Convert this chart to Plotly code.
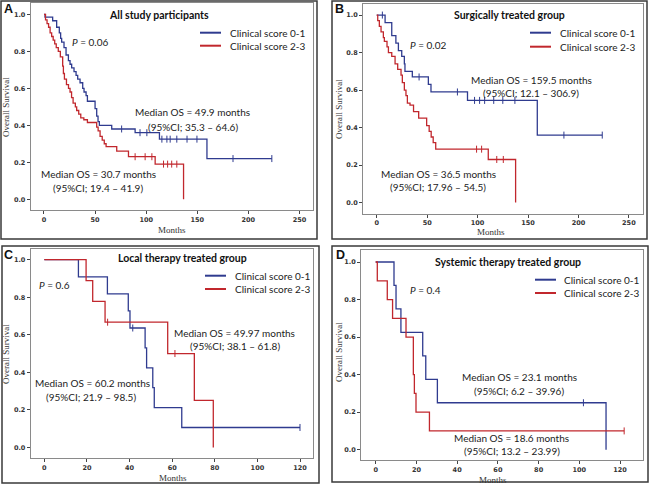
import plotly.graph_objects as go

# ---------------- data ----------------
# Panel A: all study participants
A_blue_t = [0, 1, 8.5, 12.4, 15, 16.3, 17.3, 19.6, 21.6, 23.9, 25.5, 27.1, 29.4, 31.4, 33, 35.3,
            37.9, 39.2, 41.2, 42.5, 50, 51.6, 52.9, 54.2, 66.3, 89.2, 113, 159.5, 223]
A_blue_s = [1.0, 0.985, 0.965, 0.93, 0.90, 0.87, 0.85, 0.82, 0.78, 0.75, 0.73, 0.71, 0.69, 0.67, 0.65, 0.63,
            0.60, 0.58, 0.56, 0.53, 0.49, 0.45, 0.42, 0.40, 0.38, 0.36, 0.325, 0.22, 0.22]
A_blue_cens = [76, 94, 100.7, 115.4, 120.3, 123.5, 130, 140, 149.7, 185, 223]
A_red_t = [0, 1.5, 3, 4.5, 6, 7.5, 9, 10.5, 12, 14, 16, 18.3, 19, 20, 22, 24, 25.5, 27, 28.5, 30.7,
           32, 34, 36, 39, 42.5, 51.6, 53, 54.9, 57, 59, 60.8, 71.2, 82.7, 108.8, 136.6]
A_red_s = [1.0, 0.97, 0.95, 0.93, 0.90, 0.88, 0.86, 0.84, 0.82, 0.80, 0.77, 0.72, 0.68, 0.65, 0.62, 0.60,
           0.58, 0.55, 0.52, 0.50, 0.48, 0.46, 0.44, 0.43, 0.415, 0.39, 0.37, 0.34, 0.32, 0.30, 0.285,
           0.26, 0.23, 0.19, 0.0]
A_red_cens = [89.2, 99, 105.6, 117, 121, 125, 130]

# Panel B: surgically treated group
B_blue_t = [0, 8.3, 14.9, 19, 21.5, 24.8, 27.4, 28, 35.3, 51.2, 53.8, 90, 159.2, 223.6]
B_blue_s = [1.0, 0.96, 0.89, 0.85, 0.81, 0.78, 0.74, 0.70, 0.67, 0.63, 0.59, 0.545, 0.36, 0.36]
B_blue_cens = [5.6, 42, 80, 97, 102, 107, 116, 125, 137, 185.6, 223.6]
B_red_t = [0, 1, 2.6, 4.3, 6.6, 7.6, 10.2, 11.6, 14.9, 18.2, 20.8, 24.1, 25.4, 27.4, 29, 30.4, 33,
           36.5, 41.6, 49.5, 52, 54, 56, 58.5, 110.6, 137.7]
B_red_s = [1.0, 0.97, 0.94, 0.91, 0.88, 0.86, 0.83, 0.80, 0.78, 0.74, 0.71, 0.68, 0.64, 0.60, 0.57,
           0.53, 0.52, 0.485, 0.45, 0.41, 0.38, 0.35, 0.32, 0.285, 0.23, 0.0]
B_red_cens = [99, 104, 119, 125.5]

# Panel C: local therapy treated group
C_blue_t = [0, 16, 29.6, 39.4, 40.2, 47.3, 48, 50.9, 51.6, 64.5, 120]
C_blue_s = [1.0, 0.909, 0.818, 0.727, 0.636, 0.530, 0.424, 0.318, 0.212, 0.106, 0.106]
C_blue_cens = [41.5, 120]
C_red_t = [0, 19.6, 22.7, 28.5, 57.9, 70.4, 79.3]
C_red_s = [1.0, 0.889, 0.778, 0.667, 0.5, 0.25, 0.0]
C_red_cens = [29.7, 61.3]

# Panel D: systemic therapy treated group
D_blue_t = [0, 9, 10, 12.4, 23.1, 24.6, 30.3, 113.1]
D_blue_s = [1.0, 0.875, 0.75, 0.625, 0.5, 0.375, 0.25, 0.0]
D_blue_cens = [102]
D_red_t = [0, 0.8, 5.7, 8.3, 14.9, 18.5, 19.0, 19.8, 26.4, 122]
D_red_s = [1.0, 0.9, 0.8, 0.7, 0.6, 0.4, 0.3, 0.2, 0.1, 0.1]
D_red_cens = [122]

series_names = ["Clinical score 0-1", "Clinical score 2-3"]
panel_letters = ["A", "B", "C", "D"]
panel_titles = ["All study participants", "Surgically treated group",
                "Local therapy treated group", "Systemic therapy treated group"]
p_values = ["0.06", "0.02", "0.6", "0.4"]
median_texts = [
    ["Median OS = 49.9 months", "(95%CI; 35.3 \u2013 64.6)",
     "Median OS = 30.7 months", "(95%CI; 19.4 \u2013 41.9)"],
    ["Median OS = 159.5 months", "(95%CI; 12.1 \u2013 306.9)",
     "Median OS = 36.5 months", "(95%CI; 17.96 \u2013 54.5)"],
    ["Median OS = 49.97 months", "(95%CI; 38.1 \u2013 61.8)",
     "Median OS = 60.2 months", "(95%CI; 21.9 \u2013 98.5)"],
    ["Median OS = 23.1 months", "(95%CI; 6.2 \u2013 39.96)",
     "Median OS = 18.6 months", "(95%CI; 13.2 \u2013 23.99)"],
]
x_axis_title = "Months"
y_axis_title = "Overall Survival"

# ---------------- styling / layout ----------------
W, H = 650, 486
BLUE = "#2f3b8f"
RED = "#c1272d"
TXT = "Lato"


def px(x):
    return x / W


def py(y):
    return 1 - y / H


def surv_at(ts, ss, t):
    s = ss[0]
    for ti, si in zip(ts, ss):
        if ti <= t:
            s = si
        else:
            break
    return s


panels = [
    dict(blue=(A_blue_t, A_blue_s, A_blue_cens), red=(A_red_t, A_red_s, A_red_cens),
         inner=(30.7, 312.7, 3, 210), outer=(1, 317, 1, 239), xr=[-13, 263], yr=[-0.058, 1.061], dt=50,
         letter=(2.5, 9), title=(158.5, 15), legend=(200, 228, 32.7, 45.7), p=(70, 41.7),
         med=[(193, 111.7), (192.5, 126.7), (98, 174.3), (98, 187.7)],
         xt=(172, 230), yt=(6, 107)),
    dict(blue=(B_blue_t, B_blue_s, B_blue_cens), red=(B_red_t, B_red_s, B_red_cens),
         inner=(363, 643, 4, 213.5), outer=(332, 647, 1, 239), xr=[-13.6, 264], yr=[-0.058, 1.059], dt=50,
         letter=(334, 9), title=(509.5, 15), legend=(530, 558, 32.7, 46.7), p=(408, 45),
         med=[(531, 80), (531, 93.3), (438, 174), (437.5, 186.7)],
         xt=(491, 231.7), yt=(339, 109)),
    dict(blue=(C_blue_t, C_blue_s, C_blue_cens), red=(C_red_t, C_red_s, C_red_cens),
         inner=(30.7, 313, 249, 457.7), outer=(2, 319, 246, 483), xr=[-6.4, 126.1], yr=[-0.055, 1.057], dt=20,
         letter=(3, 254.5), title=(182.5, 258), legend=(205, 233, 275.7, 289), p=(37, 285.3),
         med=[(234.5, 333), (235, 346.3), (92.5, 383), (91.5, 397.3)],
         xt=(172.7, 478), yt=(6, 354)),
    dict(blue=(D_blue_t, D_blue_s, D_blue_cens), red=(D_red_t, D_red_s, D_red_cens),
         inner=(361, 642.7, 250, 460), outer=(332, 648, 246, 482), xr=[-7.2, 131.1], yr=[-0.055, 1.064], dt=20,
         letter=(334.5, 255.5), title=(508, 262.3), legend=(535, 562, 279.7, 293), p=(408, 289.7),
         med=[(519.5, 377.3), (519, 390.7), (511.5, 438), (511.5, 451.3)],
         xt=(493, 480.3), yt=(339, 352)),
]

fig = go.Figure()
shapes = []
annotations = []
layout_axes = {}

for i, pn in enumerate(panels):
    sfx = "" if i == 0 else str(i + 1)
    xa, ya = "x" + sfx, "y" + sfx
    for (ts, ss, cens), col, name in ((pn["blue"], BLUE, series_names[0]), (pn["red"], RED, series_names[1])):
        fig.add_trace(go.Scatter(x=ts, y=ss, mode="lines", line=dict(color=col, width=1.3, shape="hv"),
                                 name=name, showlegend=False, xaxis=xa, yaxis=ya))
        fig.add_trace(go.Scatter(x=cens, y=[surv_at(ts, ss, c) for c in cens], mode="markers",
                                 marker=dict(symbol="line-ns", size=5, line=dict(color=col, width=1)),
                                 name=name + " censored", showlegend=False, xaxis=xa, yaxis=ya))
    x0, x1, y0, y1 = pn["inner"]
    tickfont = dict(family="DejaVu Sans", size=6.5, color="#333", weight="bold")
    common = dict(showline=True, mirror=True, linecolor="#8a8a8a", linewidth=1, ticks="outside",
                  ticklen=3, tickwidth=1, tickcolor="#444", showgrid=False, zeroline=False,
                  tickfont=tickfont, fixedrange=True)
    layout_axes["xaxis" + sfx] = dict(domain=[px(x0), px(x1)], range=pn["xr"], tick0=0, dtick=pn["dt"],
                                      anchor=ya, **common)
    layout_axes["yaxis" + sfx] = dict(domain=[py(y1), py(y0)], range=pn["yr"], tick0=0, dtick=0.2,
                                      tickformat=".1f", anchor=xa, **common)
    ox0, ox1, oy0, oy1 = pn["outer"]
    shapes.append(dict(type="rect", xref="paper", yref="paper", x0=px(ox0), x1=px(ox1), y0=py(oy1), y1=py(oy0),
                       line=dict(color="#3a3a3a", width=1.5)))
    # legend keys
    lx, tx, ly1, ly2 = pn["legend"]
    for ly, col, name in ((ly1, BLUE, series_names[0]), (ly2, RED, series_names[1])):
        shapes.append(dict(type="line", xref="paper", yref="paper", x0=px(lx), x1=px(lx + 21),
                           y0=py(ly), y1=py(ly), line=dict(color=col, width=2)))
        annotations.append(dict(text=name, x=px(tx), y=py(ly), xref="paper", yref="paper", xanchor="left",
                                yanchor="middle", showarrow=False, font=dict(family=TXT, size=10, color="#222")))
    # letter
    annotations.append(dict(text="<b>%s</b>" % panel_letters[i], x=px(pn["letter"][0]), y=py(pn["letter"][1]),
                            xref="paper", yref="paper", xanchor="left", yanchor="middle", showarrow=False,
                            borderpad=0, font=dict(family="Liberation Sans", size=12.5, color="#111")))
    # title
    annotations.append(dict(text="<b>%s</b>" % panel_titles[i], x=px(pn["title"][0]), y=py(pn["title"][1]),
                            xref="paper", yref="paper", xanchor="center", yanchor="middle", showarrow=False,
                            font=dict(family=TXT, size=10.5, color="#111")))
    # p value
    annotations.append(dict(text="<i>P</i> = %s" % p_values[i], x=px(pn["p"][0]), y=py(pn["p"][1]),
                            xref="paper", yref="paper", xanchor="left", yanchor="middle", showarrow=False,
                            font=dict(family=TXT, size=10, color="#222")))
    for txt, (mx, my) in zip(median_texts[i], pn["med"]):
        annotations.append(dict(text=txt, x=px(mx), y=py(my), xref="paper", yref="paper", xanchor="center",
                                yanchor="middle", showarrow=False, font=dict(family=TXT, size=10, color="#222")))
    annotations.append(dict(text=x_axis_title, x=px(pn["xt"][0]), y=py(pn["xt"][1]), xref="paper", yref="paper",
                            xanchor="center", yanchor="middle", showarrow=False,
                            font=dict(family="Liberation Serif", size=9, color="#333")))
    annotations.append(dict(text=y_axis_title, x=px(pn["yt"][0]), y=py(pn["yt"][1]), xref="paper", yref="paper",
                            xanchor="center", yanchor="middle", showarrow=False, textangle=-90,
                            font=dict(family="Liberation Serif", size=9, color="#333")))

fig.update_layout(width=W, height=H, margin=dict(l=0, r=0, t=0, b=0), paper_bgcolor="white",
                  plot_bgcolor="white", showlegend=False, shapes=shapes, annotations=annotations,
                  **layout_axes)

fig.write_html("out.html", config={"displayModeBar": False, "staticPlot": True},
               post_script="document.body.style.margin='0';document.body.style.overflow='hidden';")
